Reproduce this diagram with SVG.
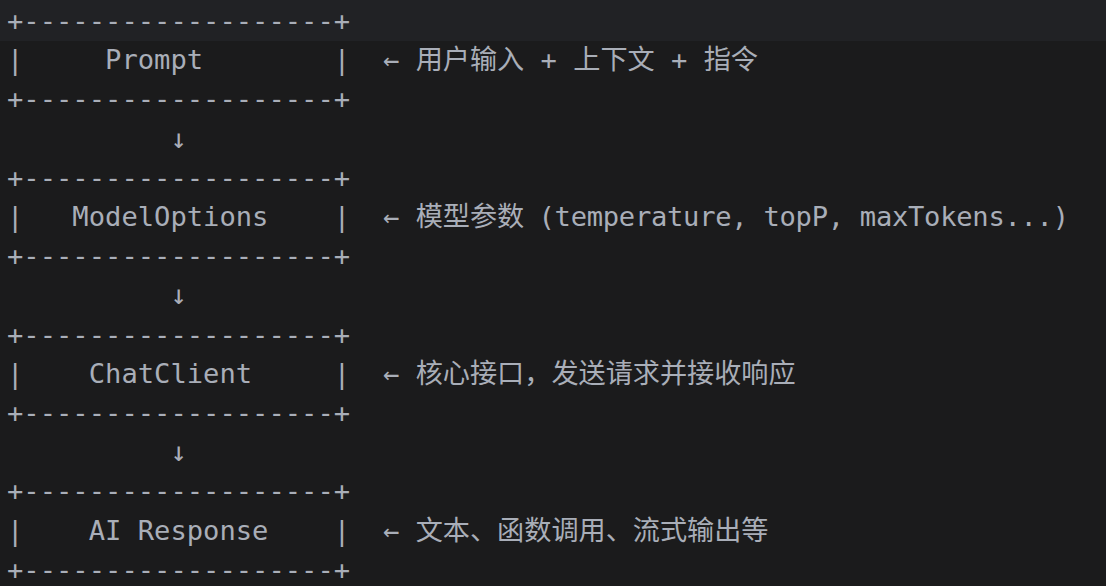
<svg xmlns="http://www.w3.org/2000/svg" width="1106" height="586" viewBox="0 0 1106 586">
<style>
  text { font-family: "DejaVu Sans Mono", "Noto Sans CJK SC", monospace; font-size: 27.15px; fill: #a9aeb8; white-space: pre; }
</style>
<rect x="0" y="0" width="1106" height="586" fill="#1b1b1c"/>
<rect x="0" y="0" width="1106" height="41" fill="#212225"/>
<g id="node-prompt">
  <text x="7" y="30" xml:space="preserve">+-------------------+</text>
  <text x="7" y="69.2" xml:space="preserve">|     Prompt        |</text>
  <text x="383" y="69.2" xml:space="preserve">← 用户输入 + 上下文 + 指令</text>
  <text x="7" y="108.4" xml:space="preserve">+-------------------+</text>
</g>
<g id="node-modeloptions">
  <text x="7" y="186.8" xml:space="preserve">+-------------------+</text>
  <text x="7" y="226" xml:space="preserve">|   ModelOptions    |</text>
  <text x="383" y="226" xml:space="preserve">← 模型参数 <tspan x="538.5" textLength="530.5" lengthAdjust="spacing">(temperature, topP, maxTokens...)</tspan></text>
  <text x="7" y="265.2" xml:space="preserve">+-------------------+</text>
</g>
<g id="node-chatclient">
  <text x="7" y="343.6" xml:space="preserve">+-------------------+</text>
  <text x="7" y="382.8" xml:space="preserve">|    ChatClient     |</text>
  <text x="383" y="382.8" xml:space="preserve">← 核心接口，发送请求并接收响应</text>
  <text x="7" y="422" xml:space="preserve">+-------------------+</text>
</g>
<g id="node-airesponse">
  <text x="7" y="500.4" xml:space="preserve">+-------------------+</text>
  <text x="7" y="539.6" xml:space="preserve">|    AI Response    |</text>
  <text x="383" y="539.6" xml:space="preserve">← 文本、函数调用、流式输出等</text>
  <text x="7" y="578.8" xml:space="preserve">+-------------------+</text>
</g>
<g id="connectors">
  <text x="170.5" y="147.6">↓</text>
  <text x="170.5" y="304.4">↓</text>
  <text x="170.5" y="461.2">↓</text>
</g>
</svg>
